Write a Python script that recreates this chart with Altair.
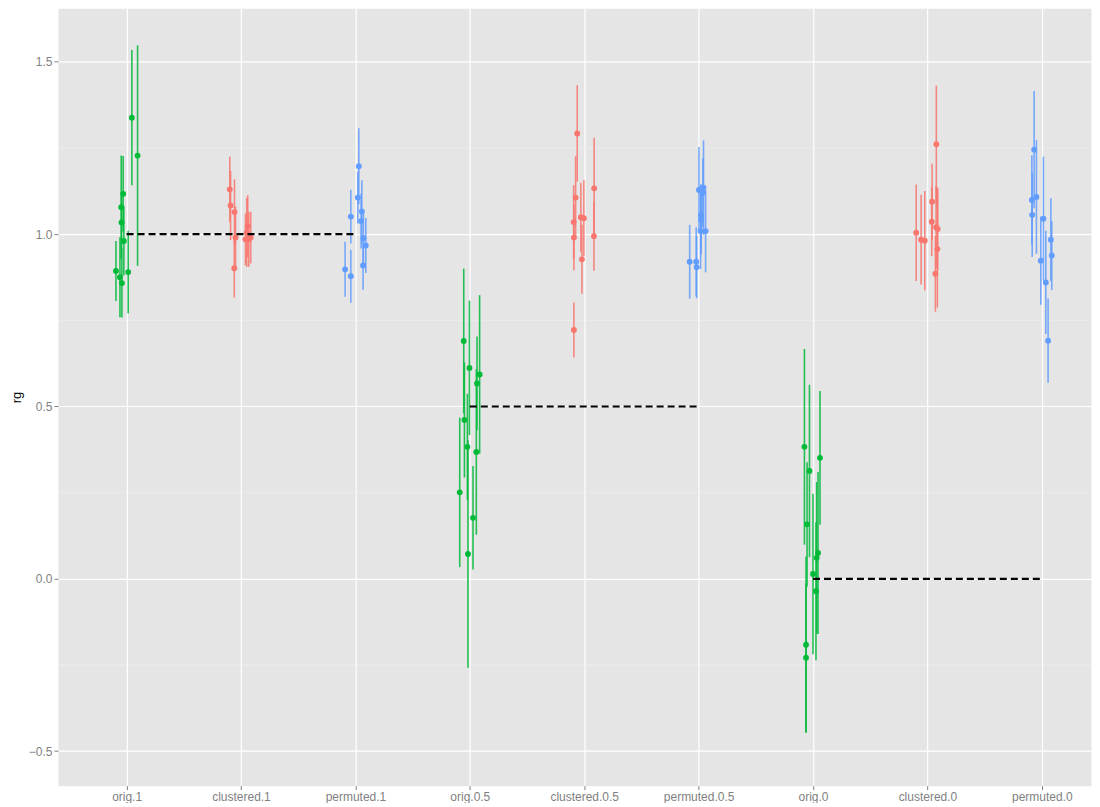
import json
import altair as alt
import pandas as pd

categories = ["orig.1", "clustered.1", "permuted.1",
              "orig.0.5", "clustered.0.5", "permuted.0.5",
              "orig.0", "clustered.0", "permuted.0"]
methods = ["orig", "clustered", "permuted"]
method_colors = ["#00BA38", "#F8766D", "#619CFF"]

# estimated rg values, standard-error half-widths and horizontal jitter, per category
rg_orig_1 = [0.893, 0.875, 0.858, 0.890, 0.980, 1.034, 1.078, 1.117, 1.338, 1.228]
se_orig_1 = [0.087, 0.116, 0.100, 0.120, 0.100, 0.080, 0.150, 0.110, 0.196, 0.320]
jit_orig_1 = [-0.093, -0.058, -0.041, 0.014, -0.024, -0.044, -0.047, -0.030, 0.046, 0.096]

rg_clustered_1 = [1.130, 1.083, 1.064, 0.990, 0.901, 1.023, 1.005, 0.985, 0.985, 0.990]
se_clustered_1 = [0.095, 0.100, 0.095, 0.090, 0.085, 0.090, 0.100, 0.075, 0.080, 0.075]
jit_clustered_1 = [-0.098, -0.091, -0.057, -0.048, -0.059, 0.059, 0.050, 0.039, 0.068, 0.085]

rg_permuted_1 = [1.197, 1.106, 1.051, 1.066, 1.038, 0.988, 0.967, 0.909, 0.898, 0.878]
se_permuted_1 = [0.110, 0.075, 0.078, 0.090, 0.080, 0.080, 0.080, 0.070, 0.080, 0.077]
jit_permuted_1 = [0.030, 0.021, -0.040, 0.056, 0.050, 0.070, 0.091, 0.067, -0.090, -0.040]

rg_orig_05 = [0.690, 0.612, 0.593, 0.567, 0.461, 0.383, 0.368, 0.251, 0.177, 0.072]
se_orig_05 = [0.210, 0.195, 0.230, 0.136, 0.167, 0.154, 0.240, 0.217, 0.150, 0.330]
jit_orig_05 = [-0.053, -0.003, 0.086, 0.063, -0.047, -0.021, 0.057, -0.088, 0.028, -0.016]

rg_clustered_05 = [1.292, 1.133, 1.106, 1.049, 1.046, 1.035, 0.990, 0.994, 0.927, 0.722]
se_clustered_05 = [0.140, 0.147, 0.120, 0.100, 0.110, 0.107, 0.095, 0.100, 0.100, 0.080]
jit_clustered_05 = [-0.061, 0.087, -0.075, -0.029, -0.003, -0.092, -0.090, 0.085, -0.020, -0.090]

rg_permuted_05 = [1.128, 1.135, 1.041, 1.009, 1.009, 0.920, 0.920, 0.904, 1.120, 1.055]
se_permuted_05 = [0.125, 0.137, 0.100, 0.110, 0.120, 0.107, 0.100, 0.090, 0.100, 0.090]
jit_permuted_05 = [0.003, 0.043, 0.023, 0.017, 0.061, -0.078, -0.021, -0.017, 0.037, 0.020]

rg_orig_0 = [0.383, 0.313, 0.351, 0.158, 0.075, 0.061, 0.014, -0.036, -0.191, -0.229]
se_orig_0 = [0.284, 0.250, 0.194, 0.180, 0.235, 0.220, 0.233, 0.200, 0.256, 0.215]
jit_orig_0 = [-0.075, -0.031, 0.061, -0.052, 0.044, 0.032, 0.000, 0.026, -0.061, -0.061]

rg_clustered_0 = [1.261, 1.094, 1.036, 1.004, 0.984, 0.981, 1.020, 1.015, 0.957, 0.885]
se_clustered_0 = [0.170, 0.110, 0.100, 0.140, 0.130, 0.144, 0.120, 0.120, 0.170, 0.110]
jit_clustered_0 = [0.078, 0.041, 0.038, -0.098, -0.055, -0.023, 0.076, 0.090, 0.087, 0.070]

rg_permuted_0 = [1.245, 1.099, 1.108, 1.056, 1.045, 0.923, 0.984, 0.938, 0.860, 0.691]
se_permuted_0 = [0.170, 0.130, 0.165, 0.122, 0.180, 0.128, 0.120, 0.100, 0.150, 0.122]
jit_permuted_0 = [-0.067, -0.087, -0.047, -0.084, 0.014, -0.009, 0.079, 0.087, 0.035, 0.055]

rg_lists = [rg_orig_1, rg_clustered_1, rg_permuted_1, rg_orig_05, rg_clustered_05,
            rg_permuted_05, rg_orig_0, rg_clustered_0, rg_permuted_0]
se_lists = [se_orig_1, se_clustered_1, se_permuted_1, se_orig_05, se_clustered_05,
            se_permuted_05, se_orig_0, se_clustered_0, se_permuted_0]
jit_lists = [jit_orig_1, jit_clustered_1, jit_permuted_1, jit_orig_05, jit_clustered_05,
             jit_permuted_05, jit_orig_0, jit_clustered_0, jit_permuted_0]

# dashed reference lines: from orig to permuted at the true rg
ref_start = [0, 3, 6]
ref_end = [2, 5, 8]
ref_value = [1.0, 0.5, 0.0]

y_ticks = [-0.5, 0.0, 0.5, 1.0, 1.5]
y_minor = [-0.25, 0.25, 0.75, 1.25]

rows = []
for i, cat in enumerate(categories):
    for v, s, j in zip(rg_lists[i], se_lists[i], jit_lists[i]):
        rows.append({"category": cat, "idx": i, "jitter": j, "rg": v, "se": s,
                     "method": methods[i % 3]})
df = pd.DataFrame(rows)
ref_df = pd.DataFrame({"start": ref_start, "end": ref_end, "value": ref_value})
minor_df = pd.DataFrame({"v": y_minor})

xscale = alt.Scale(domain=[-0.6, 8.43], nice=False, zero=False)
yscale = alt.Scale(domain=[-0.6, 1.655], nice=False, zero=False)
color = alt.Color("method:N", scale=alt.Scale(domain=methods, range=method_colors), legend=None)

label_expr = json.dumps(categories) + "[datum.value]"
xaxis = alt.Axis(values=list(range(len(categories))), labelExpr=label_expr, title=None,
                 grid=True, gridColor="white", gridWidth=1.2, domain=False,
                 tickColor="#7F7F7F", tickSize=4, labelColor="#7F7F7F", labelFontSize=12,
                 labelPadding=2, labelFont="Liberation Sans")
yaxis = alt.Axis(values=y_ticks, format=".1f", title="rg", grid=True, gridColor="white",
                 gridWidth=1.2, domain=False, tickColor="#7F7F7F", tickSize=4,
                 labelColor="#7F7F7F", labelFontSize=12, labelPadding=2,
                 labelFont="Liberation Sans", titleFont="Liberation Sans",
                 titleFontSize=13, titleFontWeight="normal", titleColor="black",
                 titleX=-41, titleY=389, titleAngle=270, titleAlign="center",
                 titleBaseline="middle")

minor = alt.Chart(minor_df).mark_rule(color="#F2F2F2", strokeWidth=0.6).encode(
    y=alt.Y("v:Q", scale=yscale, axis=yaxis)
)

base = alt.Chart(df).transform_calculate(
    xpos="datum.idx + datum.jitter",
    lo="datum.rg - datum.se",
    hi="datum.rg + datum.se",
)

bars = base.mark_rule(strokeWidth=1.6, opacity=0.85).encode(
    x=alt.X("xpos:Q", scale=xscale, axis=xaxis),
    y=alt.Y("lo:Q", scale=yscale, axis=yaxis),
    y2="hi:Q",
    color=color,
)

points = base.mark_point(filled=True, size=34, opacity=1).encode(
    x=alt.X("xpos:Q", scale=xscale, axis=xaxis),
    y=alt.Y("rg:Q", scale=yscale, axis=yaxis),
    color=color,
)

refs = alt.Chart(ref_df).mark_rule(color="black", strokeWidth=2.2, strokeDash=[7, 4]).encode(
    x=alt.X("start:Q", scale=xscale, axis=xaxis),
    x2="end:Q",
    y=alt.Y("value:Q", scale=yscale, axis=yaxis),
)

chart = alt.layer(minor, bars, points, refs).properties(
    width=1034, height=778, padding={"left": 3, "top": 0, "right": 0, "bottom": 0},
    background="white"
).configure_view(fill="#E5E5E5", stroke="transparent")

chart.save("out.html", embed_options={"renderer": "svg", "actions": False})
